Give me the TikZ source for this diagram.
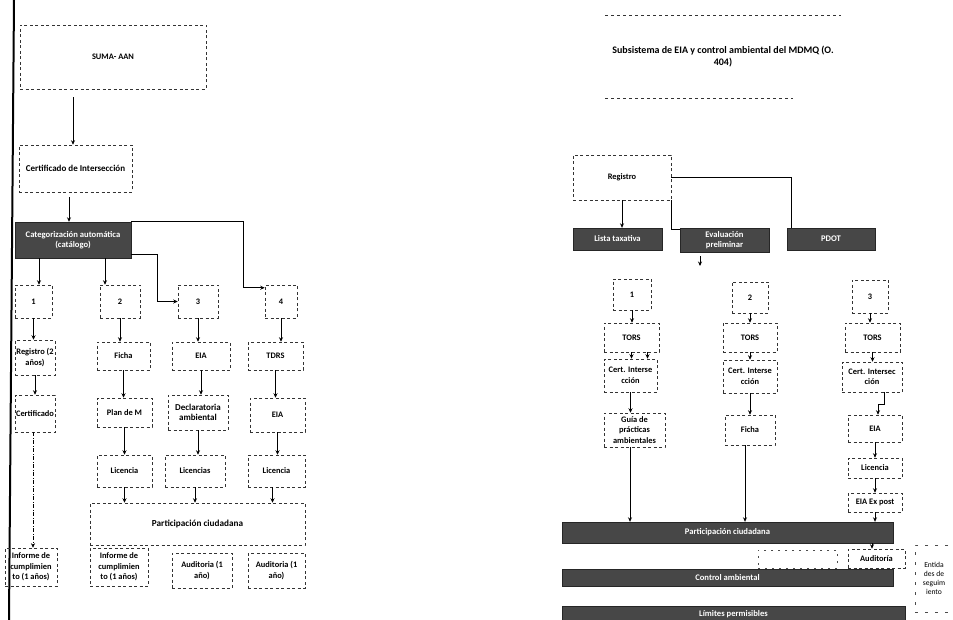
\documentclass[tikz,border=0pt]{standalone}
\usepackage{fontspec}
\setmainfont{Carlito}
\usetikzlibrary{arrows.meta}
\begin{document}
\begin{tikzpicture}[x=1pt,y=-1pt,
  bx/.style 2 args={minimum width=#1pt, minimum height=#2pt},
  dbox/.style={draw=black!80, dash pattern=on 3pt off 2.5pt, line width=0.5pt, inner sep=1pt, align=center, font=\bfseries\fontsize{8.4}{10.5}\selectfont},
  plain/.style={inner sep=1pt, align=center, font=\bfseries\fontsize{10}{12}\selectfont},
  dark/.style={fill=black!72, draw=black!85, text=white, inner sep=1pt, align=center, font=\bfseries\fontsize{8.6}{10}\selectfont},
  arr/.style={-{Stealth[length=4.5pt,width=4pt]}, line width=0.7pt},
  ln/.style={line width=0.7pt},
  dd/.style={line width=0.6pt, dash pattern=on 4pt off 1.5pt on 1pt off 1.5pt}
]
\useasboundingbox (0,0) rectangle (953,620);
\fill[white] (0,0) rectangle (953,620);
% left border
\draw[line width=2pt] (14,0) -- (9,620);

% ---------------- left diagram ----------------
\node[dbox, bx={186}{64}] (suma) at (113,57) {SUMA- AAN};
\node[dbox, bx={113}{47}, font=\bfseries\fontsize{9}{10.5}\selectfont] (cert) at (75.5,168.5) {Certificado de Intersección};
\node[dark, bx={116}{36}] (cat) at (73,240) {Categorización automática\\ (catálogo)};

\node[dbox, bx={37}{33}] (b1) at (33.5,301.5) {1};
\node[dbox, bx={40}{33}] (b2) at (120,301.5) {2};
\node[dbox, bx={40}{33}] (b3) at (198,301.5) {3};
\node[dbox, bx={32}{33}] (b4) at (281,301.5) {4};

\node[dbox, bx={40}{35}] (reg1) at (35,357.5) {Registro (2\\ años)};
\node[dbox, bx={40}{37}] (cert1) at (35,413.5) {Certificado};
\node[dbox, bx={52}{38}] (inf1) at (31,567) {Informe de\\ cumplimien\\ to (1 años)};

\node[dbox, bx={53}{28}] (ficha) at (123.5,356) {Ficha};
\node[dbox, bx={55}{29}] (plan) at (124.5,412.5) {Plan de M};
\node[dbox, bx={55}{32}] (lic2) at (124.5,471) {Licencia};
\node[dbox, bx={58}{38}] (inf2) at (119,567) {Informe de\\ cumplimien\\ to (1 años)};

\node[dbox, bx={58}{28}] (eia3) at (201,356) {EIA};
\node[dbox, bx={60}{35}, font=\bfseries\fontsize{9}{10.5}\selectfont] (decl) at (198,412.5) {Declaratoria\\ ambiental};
\node[dbox, bx={60}{32}] (lic3) at (195,471) {Licencias};
\node[dbox, bx={60}{35}] (aud3) at (202,570.5) {Auditoria (1\\ año)};

\node[dbox, bx={55}{28}] (tdrs) at (275.5,356) {TDRS};
\node[dbox, bx={55}{34}] (eia4) at (277.5,415) {EIA};
\node[dbox, bx={57}{32}] (lic4) at (276.5,471) {Licencia};
\node[dbox, bx={57}{35}] (aud4) at (276.5,570.5) {Auditoria (1\\ año)};

\node[dbox, bx={215}{42}, font=\bfseries\fontsize{9.2}{10.5}\selectfont] (part) at (197.5,524) {Participación ciudadana};

% left connectors
\draw[arr, shorten <=8pt] ([xshift=-40pt]suma.south) -- ([xshift=-40pt]suma.south |- cert.north);
\draw[arr, shorten <=5pt] ([xshift=-6.5pt]cert.south) -- ([xshift=-6.5pt]cert.south |- cat.north);
\draw[arr] ([xshift=5.5pt]b1.north |- cat.south) -- ([xshift=5.5pt]b1.north);
\draw[arr] ([xshift=-15pt]b2.north |- cat.south) -- ([xshift=-15pt]b2.north);
\draw[arr] ([yshift=-14pt]cat.east) -- ++(26pt,0) |- (b3.west);
\draw[arr] (cat.north east) -- ++(112pt,0) |- ([yshift=-3pt]b4.north west);

\draw[arr] (b1.south) -- (b1.south |- reg1.north);
\draw[arr] (reg1.south) -- (reg1.south |- cert1.north);
\draw[arr, dd] ([xshift=-2pt]cert1.south) -- ([xshift=-2pt]cert1.south |- inf1.north);

\draw[arr] (b2.south) -- (b2.south |- ficha.north);
\draw[arr] (ficha.south) -- (ficha.south |- plan.north);
\draw[arr] (plan.south) -- (plan.south |- lic2.north);
\draw[arr] (lic2.south) -- (lic2.south |- part.north);

\draw[arr] (b3.south) -- (b3.south |- eia3.north);
\draw[arr] (eia3.south) -- (eia3.south |- decl.north);
\draw[arr] (decl.south) -- (decl.south |- lic3.north);
\draw[arr] (lic3.south) -- (lic3.south |- part.north);

\draw[arr] (b4.south) -- (b4.south |- tdrs.north);
\draw[arr] (tdrs.south) -- (tdrs.south |- eia4.north);
\draw[arr] (eia4.south) -- (eia4.south |- lic4.north);
\draw[arr] ([xshift=-4pt]lic4.south) -- ([xshift=-4pt]lic4.south |- part.north);

% ---------------- right diagram ----------------
\node[plain, bx={235}{83}] (title) at (723,56.5) {Subsistema de EIA y control ambiental del MDMQ (O.\\ 404)};
\draw[black!80, dash pattern=on 3pt off 3pt, line width=0.5pt] (title.north west) -- (title.north east);
\draw[black!80, dash pattern=on 3pt off 3pt, line width=0.5pt] (title.south west) -- ([xshift=-48pt]title.south east);

\node[dbox, bx={98}{45}] (reg) at (622,177.5) {Registro};
\node[dark, bx={89}{22}] (lista) at (617.5,239) {Lista taxativa};
\node[dark, bx={89}{24}] (eval) at (724.5,240) {Evaluación\\ preliminar};
\node[dark, bx={88}{22}] (pdot) at (831,239) {PDOT};

\draw[arr] (reg.south) -- (reg.south |- lista.north);
\draw[ln] (reg.south east) |- ([yshift=-2pt]eval.north west);
\draw[ln] (reg.east) -| ([xshift=5pt]pdot.north west);
\coordinate (evarr) at (700,266);
\draw[arr] ([xshift=-24.5pt,yshift=-4pt]eval.south) -- (evarr);

% column A
\node[dbox, bx={38}{31}] (a1) at (632,294.5) {1};
\node[dbox, bx={55}{29}] (tors1) at (631.5,337.5) {TORS};
\node[dbox, bx={53}{33}] (cert1r) at (630.5,375.5) {Cert. Interse\\ cción};
\node[dbox, bx={61}{34}] (guia) at (634.5,430) {Guía de\\ prácticas\\ ambientales};
% column B
\node[dbox, bx={36}{31}] (b2r) at (750,297.5) {2};
\node[dbox, bx={54}{29}] (tors2) at (750,337.5) {TORS};
\node[dbox, bx={54}{33}] (cert2r) at (750,376.5) {Cert. Interse\\ cción};
\node[dbox, bx={50}{30}] (ficha2) at (750,430) {Ficha};
% column C
\node[dbox, bx={36}{33}] (c3) at (870,296.5) {3};
\node[dbox, bx={55}{29}] (tors3) at (872.5,337.5) {TORS};
\node[dbox, bx={60}{30}] (cert3r) at (872,377) {Cert. Intersec\\ ción};
\node[dbox, bx={54}{27}] (eia3r) at (875,428.5) {EIA};
\node[dbox, bx={54}{20}] (lic3r) at (875,468) {Licencia};
\node[dbox, bx={54}{19}] (expost) at (875,502.5) {EIA Ex post};

\node[dark, bx={331}{21}] (bar1) at (727.5,532.5) {Participación ciudadana};
\node[dbox, bx={57}{19}] (aud) at (876.5,558.5) {Auditoría};
\node[draw=black!70, dash pattern=on 2pt off 5pt, line width=0.5pt, bx={79}{18}] (frag) at (797.5,559) {};
\node[dark, bx={331}{17}] (bar2) at (727.5,577.5) {Control ambiental};
\node[dark, bx={343}{16}] (bar3) at (733.5,614) {Límites permisibles};
\node[draw=black!70, dash pattern=on 3pt off 7pt, line width=0.5pt, inner sep=1pt, align=center,
      font=\fontsize{7.6}{9}\selectfont, bx={38}{67}] (ent) at (934,578.5) {Entida\\des de\\seguim\\iento};

% right connectors
\draw[arr] (a1.south) -- (a1.south |- tors1.north);
\draw[arr] (tors1.south) -- (tors1.south |- cert1r.north);
\draw[arr] ([xshift=16pt]tors1.south) -- ([xshift=16pt]tors1.south |- cert1r.north);
\draw[arr] (cert1r.south) -- (cert1r.south |- guia.north);
\draw[arr] ([xshift=-4.5pt]guia.south) -- ([xshift=-4.5pt]guia.south |- bar1.north);

\draw[arr] (b2r.south) -- (b2r.south |- tors2.north);
\draw[arr] (tors2.south) -- (tors2.south |- cert2r.north);
\draw[arr] (cert2r.south) -- (cert2r.south |- ficha2.north);
\draw[arr] ([xshift=-5pt]ficha2.south) -- ([xshift=-5pt]ficha2.south |- bar1.north);

\draw[arr] (c3.south) -- (c3.south |- tors3.north);
\draw[arr] (tors3.south) -- (tors3.south |- cert3r.north);
\draw[arr] ([xshift=12pt]cert3r.south) -- ++(0,-12pt) -- ++(-6pt,0) -- ([xshift=6pt]cert3r.south |- eia3r.north);
\draw[arr] (eia3r.south) -- (eia3r.south |- lic3r.north);
\draw[arr] (lic3r.south) -- (lic3r.south |- expost.north);
\draw[arr] (expost.south) -- (expost.south |- bar1.north);
\draw[arr] ([xshift=-4.5pt]aud.north |- bar1.south) -- ([xshift=-4.5pt]aud.north);
\end{tikzpicture}
\end{document}
